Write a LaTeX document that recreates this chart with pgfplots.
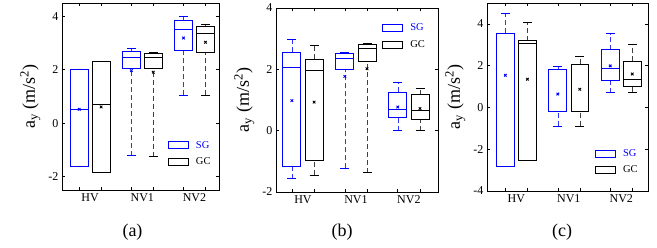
\documentclass[border=0pt]{standalone}
\usepackage{fontspec}
\setmainfont{Liberation Serif}
\usepackage{pgfplots}
\pgfplotsset{compat=1.18}
\usepgfplotslibrary{statistics}

\pgfplotsset{
  panel/.style={
    anchor=south west, scale only axis,
    axis line style={line width=0.8pt},
    xtick={0.79,1.21,1.79,2.21,2.79,3.21}, xticklabels={},
    extra x ticks={1,2,3}, extra x tick labels={HV,NV1,NV2},
    extra x tick style={major tick length=0pt},
    major tick length=3pt,
    tick style={line width=0.6pt, black},
    tick align=inside,
    tick label style={font=\fontsize{12}{14}\selectfont},
    /pgf/number format/assume math mode=true,
    ylabel={a\textsubscript{y} (m/s\textsuperscript{2})},
    ylabel style={font=\fontsize{18}{20}\selectfont, anchor=base},
    boxplot/draw direction=y,
    boxplot/box extend=0.34,
    boxplot/draw/lower whisker/.code={},
    boxplot/draw/upper whisker/.code={},
    unbounded coords=jump,
    legend style={draw=none, fill=none, inner sep=0pt, row sep=4pt, column sep=5pt,
      font=\fontsize{10.5}{12}\selectfont, cells={anchor=west}},
  },
  bx/.style={line width=0.8pt, solid, forget plot, #1},
  wk/.style={line width=0.5pt, dash pattern=on 5pt off 3pt, forget plot, #1},
  cp/.style={line width=0.7pt, solid, forget plot, #1},
  mn/.style={only marks, mark=x, mark size=1.8pt, line width=0.9pt, forget plot},
}

\newcommand{\leg}{%
  \addlegendimage{legend image code/.code={\draw[blue, line width=0.8pt] (0pt,-3.5pt) rectangle (20pt,3.5pt);}}
  \addlegendentry{\textcolor{blue}{SG}}
  \addlegendimage{legend image code/.code={\draw[black, line width=0.8pt] (0pt,-3.5pt) rectangle (20pt,3.5pt);}}
  \addlegendentry{GC}
}

\begin{document}
\begin{tikzpicture}[x=1pt,y=1pt]
\path[use as bounding box] (0,0) rectangle (657,248);

% ---------------- (a)
\begin{axis}[panel, at={(62pt,58pt)}, width=157pt, height=187pt,
  xmin=0.46, xmax=3.47, ymin=-2.5, ymax=4.5, ytick={-2,0,2,4},
  ylabel style={at={(axis description cs:-0.172,0.5)}},
  legend style={at={(axis description cs:0.675,0.273)}, anchor=north west}]
\leg
% whiskers (dashed) and caps
\addplot[wk=blue!80] coordinates {(1.79,-1.22) (1.79,2.07) (0,nan) (1.79,2.70) (1.79,2.80) (0,nan) (2.79,1.04) (2.79,2.72) (0,nan) (2.79,3.84) (2.79,3.99)};
\addplot[wk=black!75] coordinates {(2.21,-1.25) (2.21,2.07) (0,nan) (2.21,2.60) (2.21,2.66) (0,nan) (3.21,1.04) (3.21,2.66) (0,nan) (3.21,3.61) (3.21,3.69)};
\addplot[cp=blue] coordinates {(1.705,-1.22) (1.875,-1.22) (0,nan) (1.705,2.80) (1.875,2.80) (0,nan) (2.705,1.04) (2.875,1.04) (0,nan) (2.705,3.99) (2.875,3.99)};
\addplot[cp=black] coordinates {(2.125,-1.25) (2.295,-1.25) (0,nan) (2.125,2.66) (2.295,2.66) (0,nan) (3.125,1.04) (3.295,1.04) (0,nan) (3.125,3.69) (3.295,3.69)};
% boxes
\addplot[bx=blue, boxplot prepared={draw position=0.79, lower whisker=-1.6, lower quartile=-1.6, median=0.52, upper quartile=2.0, upper whisker=2.0}] coordinates {};
\addplot[bx=black, boxplot prepared={draw position=1.21, lower whisker=-1.85, lower quartile=-1.85, median=0.70, upper quartile=2.32, upper whisker=2.32}] coordinates {};
\addplot[bx=blue, boxplot prepared={draw position=1.79, lower whisker=2.07, lower quartile=2.07, median=2.47, upper quartile=2.70, upper whisker=2.70}] coordinates {};
\addplot[bx=black, boxplot prepared={draw position=2.21, lower whisker=2.07, lower quartile=2.07, median=2.47, upper quartile=2.60, upper whisker=2.60}] coordinates {};
\addplot[bx=blue, boxplot prepared={draw position=2.79, lower whisker=2.72, lower quartile=2.72, median=3.53, upper quartile=3.84, upper whisker=3.84}] coordinates {};
\addplot[bx=black, boxplot prepared={draw position=3.21, lower whisker=2.66, lower quartile=2.66, median=3.38, upper quartile=3.61, upper whisker=3.61}] coordinates {};
% means
\addplot[mn, blue] coordinates {(0.79,0.52) (1.79,1.97) (2.79,3.19)};
\addplot[mn, black] coordinates {(1.21,0.61) (2.21,1.91) (3.21,3.03)};
\end{axis}

% ---------------- (b)
\begin{axis}[panel, at={(276pt,56pt)}, width=162pt, height=184pt,
  xmin=0.49, xmax=3.55, ymin=-2, ymax=4, ytick={-2,0,2,4},
  ylabel style={at={(axis description cs:-0.167,0.5)}},
  legend style={at={(axis description cs:0.656,0.926)}, anchor=north west}]
\leg
\addplot[wk=blue!80] coordinates {(0.79,-1.56) (0.79,-1.15) (0,nan) (0.79,2.55) (0.79,2.97) (0,nan) (1.79,-1.23) (1.79,1.99) (0,nan) (1.79,2.51) (1.79,2.57) (0,nan) (2.79,0.0) (2.79,0.42) (0,nan) (2.79,1.26) (2.79,1.57)};
\addplot[wk=black!75] coordinates {(1.21,-1.45) (1.21,-0.98) (0,nan) (1.21,2.33) (1.21,2.77) (0,nan) (2.21,-1.37) (2.21,2.26) (0,nan) (2.21,2.81) (2.21,2.84) (0,nan) (3.21,0.0) (3.21,0.36) (0,nan) (3.21,1.17) (3.21,1.38)};
\addplot[cp=blue] coordinates {(0.705,-1.56) (0.875,-1.56) (0,nan) (0.705,2.97) (0.875,2.97) (0,nan) (1.705,-1.23) (1.875,-1.23) (0,nan) (1.705,2.57) (1.875,2.57) (0,nan) (2.705,0.0) (2.875,0.0) (0,nan) (2.705,1.57) (2.875,1.57)};
\addplot[cp=black] coordinates {(1.125,-1.45) (1.295,-1.45) (0,nan) (1.125,2.77) (1.295,2.77) (0,nan) (2.125,-1.37) (2.295,-1.37) (0,nan) (2.125,2.84) (2.295,2.84) (0,nan) (3.125,0.0) (3.295,0.0) (0,nan) (3.125,1.38) (3.295,1.38)};
\addplot[bx=blue, boxplot prepared={draw position=0.79, lower whisker=-1.15, lower quartile=-1.15, median=2.05, upper quartile=2.55, upper whisker=2.55}] coordinates {};
\addplot[bx=black, boxplot prepared={draw position=1.21, lower whisker=-0.98, lower quartile=-0.98, median=1.95, upper quartile=2.33, upper whisker=2.33}] coordinates {};
\addplot[bx=blue, boxplot prepared={draw position=1.79, lower whisker=1.99, lower quartile=1.99, median=2.35, upper quartile=2.51, upper whisker=2.51}] coordinates {};
\addplot[bx=black, boxplot prepared={draw position=2.21, lower whisker=2.26, lower quartile=2.26, median=2.68, upper quartile=2.81, upper whisker=2.81}] coordinates {};
\addplot[bx=blue, boxplot prepared={draw position=2.79, lower whisker=0.42, lower quartile=0.42, median=0.68, upper quartile=1.26, upper whisker=1.26}] coordinates {};
\addplot[bx=black, boxplot prepared={draw position=3.21, lower whisker=0.36, lower quartile=0.36, median=0.66, upper quartile=1.17, upper whisker=1.17}] coordinates {};
\addplot[mn, blue] coordinates {(0.79,0.98) (1.79,1.77) (2.79,0.77)};
\addplot[mn, black] coordinates {(1.21,0.93) (2.21,2.02) (3.21,0.72)};
\end{axis}

% ---------------- (c)
\begin{axis}[panel, at={(487pt,57pt)}, width=161pt, height=188pt,
  xmin=0.44, xmax=3.51, ymin=-4, ymax=5, ytick={-4,-2,0,2,4},
  ylabel style={at={(axis description cs:-0.168,0.5)}},
  legend style={at={(axis description cs:0.671,0.234)}, anchor=north west}]
\leg
\addplot[wk=blue!80] coordinates {(0.79,3.56) (0.79,4.49) (0,nan) (1.79,-0.90) (1.79,-0.21) (0,nan) (1.79,1.83) (1.79,1.96) (0,nan) (2.79,0.71) (2.79,1.28) (0,nan) (2.79,2.76) (2.79,3.53)};
\addplot[wk=black!75] coordinates {(1.21,3.19) (1.21,4.08) (0,nan) (2.21,-0.90) (2.21,-0.21) (0,nan) (2.21,2.07) (2.21,2.44) (0,nan) (3.21,0.74) (3.21,1.00) (0,nan) (3.21,2.20) (3.21,3.03)};
\addplot[cp=blue] coordinates {(0.705,4.49) (0.875,4.49) (0,nan) (1.705,-0.90) (1.875,-0.90) (0,nan) (1.705,1.96) (1.875,1.96) (0,nan) (2.705,0.71) (2.875,0.71) (0,nan) (2.705,3.53) (2.875,3.53)};
\addplot[cp=black] coordinates {(1.125,4.08) (1.295,4.08) (0,nan) (2.125,-0.90) (2.295,-0.90) (0,nan) (2.125,2.44) (2.295,2.44) (0,nan) (3.125,0.74) (3.295,0.74) (0,nan) (3.125,3.03) (3.295,3.03)};
\addplot[bx=blue, boxplot prepared={draw position=0.79, lower whisker=-2.81, lower quartile=-2.81, median=3.56, upper quartile=3.56, upper whisker=3.56}] coordinates {};
\addplot[bx=black, boxplot prepared={draw position=1.21, lower whisker=-2.54, lower quartile=-2.54, median=3.08, upper quartile=3.19, upper whisker=3.19}] coordinates {};
\addplot[bx=blue, boxplot prepared={draw position=1.79, lower whisker=-0.21, lower quartile=-0.21, median=-0.21, upper quartile=1.83, upper whisker=1.83}] coordinates {};
\addplot[bx=black, boxplot prepared={draw position=2.21, lower whisker=-0.21, lower quartile=-0.21, median=-0.21, upper quartile=2.07, upper whisker=2.07}] coordinates {};
\addplot[bx=blue, boxplot prepared={draw position=2.79, lower whisker=1.28, lower quartile=1.28, median=1.88, upper quartile=2.76, upper whisker=2.76}] coordinates {};
\addplot[bx=black, boxplot prepared={draw position=3.21, lower whisker=1.00, lower quartile=1.00, median=1.32, upper quartile=2.20, upper whisker=2.20}] coordinates {};
\addplot[mn, blue] coordinates {(0.79,1.54) (1.79,0.64) (2.79,1.99)};
\addplot[mn, black] coordinates {(1.21,1.35) (2.21,0.87) (3.21,1.60)};
\end{axis}

\node[font=\fontsize{18}{20}\selectfont] at (132.5,16) {(a)};
\node[font=\fontsize{18}{20}\selectfont] at (342,16) {(b)};
\node[font=\fontsize{18}{20}\selectfont] at (562,16) {(c)};
\end{tikzpicture}
\end{document}
